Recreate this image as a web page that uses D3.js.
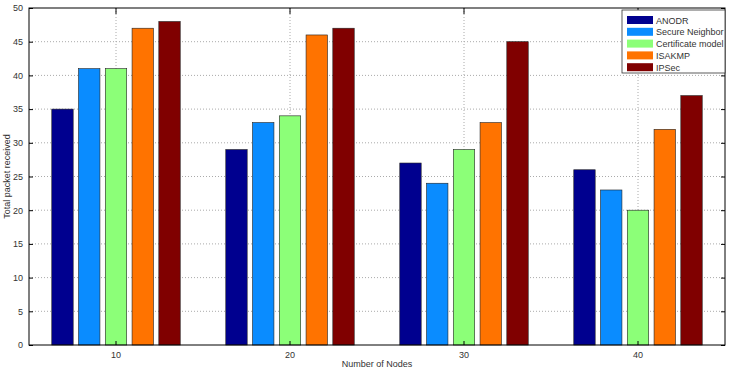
<!DOCTYPE html>
<html>
<head>
<meta charset="utf-8">
<script src="https://cdn.jsdelivr.net/npm/d3@7"></script>
<style>
  body { margin: 0; background: #fff; }
  svg text { font-family: "Liberation Sans", Arial, sans-serif; fill: #333; }
</style>
</head>
<body>
<div id="chart"></div>
<script>
// Total packet received per node count, one series per scheme
const nodes = [10, 20, 30, 40];
const seriesNames = ["ANODR", "Secure Neighbor", "Certificate model", "ISAKMP", "IPSec"];
const anodr = [35, 29, 27, 26];
const secureNeighbor = [41, 33, 24, 23];
const certificateModel = [41, 34, 29, 20];
const isakmp = [47, 46, 33, 32];
const ipsec = [48, 47, 45, 37];
const yTicks = [0, 5, 10, 15, 20, 25, 30, 35, 40, 45, 50];

const seriesValues = [anodr, secureNeighbor, certificateModel, isakmp, ipsec];
const colors = ["#00008f", "#0a8cff", "#8cff78", "#ff7300", "#800000"];

const width = 729, height = 371;
const margin = { top: 8, right: 4, bottom: 26, left: 29 };

const svg = d3.select("#chart")
    .append("svg")
    .attr("width", width)
    .attr("height", height);

const x = d3.scaleBand()
    .domain(nodes)
    .range([margin.left, width - margin.right])
    .paddingInner(0)
    .paddingOuter(0);

// grouped bars, matlab style group width
const groupWidth = x.bandwidth() * 0.769;
const xSub = d3.scaleBand()
    .domain(d3.range(seriesNames.length))
    .range([(x.bandwidth() - groupWidth) / 2, (x.bandwidth() + groupWidth) / 2])
    .paddingInner(0.2)
    .paddingOuter(0.1);

const y = d3.scaleLinear()
    .domain([0, 50])
    .range([height - margin.bottom, margin.top]);

const plotL = margin.left, plotR = width - margin.right;
const plotT = margin.top, plotB = height - margin.bottom;

// grid lines
svg.append("g")
    .selectAll("line")
    .data(yTicks.slice(1, -1))
    .join("line")
    .attr("x1", plotL).attr("x2", plotR)
    .attr("y1", (d) => y(d)).attr("y2", (d) => y(d))
    .attr("stroke", "#aaa")
    .attr("stroke-width", 1)
    .attr("stroke-dasharray", "1,2");

svg.append("g")
    .selectAll("line")
    .data(nodes)
    .join("line")
    .attr("x1", (d) => x(d) + x.bandwidth() / 2)
    .attr("x2", (d) => x(d) + x.bandwidth() / 2)
    .attr("y1", plotT).attr("y2", plotB)
    .attr("stroke", "#aaa")
    .attr("stroke-width", 1)
    .attr("stroke-dasharray", "1,2");

// bars
const groups = svg.append("g")
    .selectAll("g")
    .data(nodes)
    .join("g")
    .attr("transform", (d) => `translate(${x(d)},0)`);

groups.selectAll("rect")
    .data((d, i) => seriesValues.map((s, k) => ({ k: k, v: s[i] })))
    .join("rect")
    .attr("x", (d) => xSub(d.k))
    .attr("width", xSub.bandwidth())
    .attr("y", (d) => y(d.v))
    .attr("height", (d) => y(0) - y(d.v))
    .attr("fill", (d) => colors[d.k])
    .attr("stroke", "#222")
    .attr("stroke-width", 0.6);

// axes
const yAxis = d3.axisLeft(y).tickValues(yTicks).tickSize(-4).tickPadding(6);
const gy = svg.append("g")
    .attr("transform", `translate(${plotL},0)`)
    .call(yAxis);
gy.select(".domain").remove();
gy.selectAll("text").attr("font-size", "9px");

const yAxisR = d3.axisRight(y).tickValues(yTicks).tickSize(-4).tickFormat("");
svg.append("g")
    .attr("transform", `translate(${plotR},0)`)
    .call(yAxisR)
    .select(".domain").remove();

const xAxis = d3.axisBottom(x).tickSize(-4).tickPadding(7);
const gx = svg.append("g")
    .attr("transform", `translate(0,${plotB})`)
    .call(xAxis);
gx.select(".domain").remove();
gx.selectAll("text").attr("font-size", "9px");

svg.append("g")
    .attr("transform", `translate(0,${plotT})`)
    .call(d3.axisTop(x).tickSize(-6).tickFormat(""))
    .select(".domain").remove();

// box
svg.append("rect")
    .attr("x", plotL).attr("y", plotT)
    .attr("width", plotR - plotL).attr("height", plotB - plotT)
    .attr("fill", "none")
    .attr("stroke", "#000")
    .attr("stroke-width", 1);

// axis titles
svg.append("text")
    .attr("x", (plotL + plotR) / 2)
    .attr("y", height - 4)
    .attr("text-anchor", "middle")
    .attr("font-size", "9px")
    .text("Number of Nodes");

svg.append("text")
    .attr("transform", "rotate(-90)")
    .attr("x", -(plotT + plotB) / 2)
    .attr("y", 10)
    .attr("text-anchor", "middle")
    .attr("font-size", "9px")
    .text("Total packet received");

// legend
const legend = svg.append("g").attr("transform", "translate(622,10)");
legend.append("rect")
    .attr("width", 103).attr("height", 63)
    .attr("fill", "#fff")
    .attr("stroke", "#333")
    .attr("stroke-width", 0.8);

const items = legend.selectAll("g.item")
    .data(seriesNames)
    .join("g")
    .attr("class", "item")
    .attr("transform", (d, i) => `translate(5,${6 + i * 11.8})`);

items.append("rect")
    .attr("width", 26).attr("height", 8)
    .attr("fill", (d, i) => colors[i]);

items.append("text")
    .attr("x", 29)
    .attr("y", 7.5)
    .attr("font-size", "9px")
    .text((d) => d);
</script>
</body>
</html>
